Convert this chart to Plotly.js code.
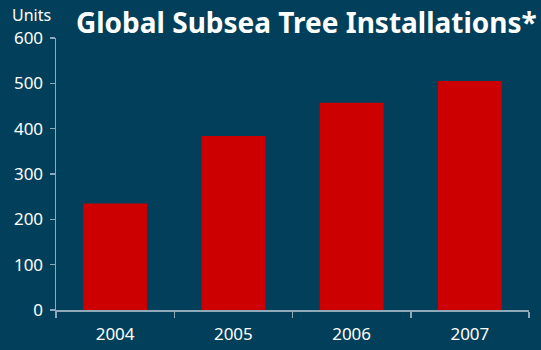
<!DOCTYPE html>
<html>
<head>
<meta charset="utf-8">
<script src="https://cdn.plot.ly/plotly-3.0.1.min.js"></script>
<style>html,body{margin:0;padding:0;background:#023f5a;}</style>
</head>
<body>
<div id="chart" style="width:541px;height:350px;"></div>
<script>
const years = ["2004", "2005", "2006", "2007"];
const installations = [235, 384, 457, 505];
const yTicks = [0, 100, 200, 300, 400, 500, 600];

const bg = "#023f5a";
const axisColor = "#8fa9b8";
const textColor = "#ffffff";
const fontFam = "Noto Sans, DejaVu Sans, sans-serif";

const data = [{
  type: "bar",
  x: years,
  y: installations,
  marker: {color: "#cc0000", line: {width: 0}},
  hoverinfo: "none"
}];

const layout = {
  width: 541, height: 350,
  paper_bgcolor: bg, plot_bgcolor: bg,
  margin: {l: 56, r: 12, t: 38, b: 40},
  bargap: 0.46,
  showlegend: false,
  font: {family: fontFam, color: textColor, size: 17},
  title: {
    text: "<b>Global Subsea Tree Installations*</b>",
    font: {family: fontFam, size: 28, color: textColor},
    xref: "container", yref: "container",
    x: 76/541, xanchor: "left",
    y: 1 - 23/350, yanchor: "middle"
  },
  xaxis: {
    type: "category",
    showline: true, linecolor: axisColor, linewidth: 1.5,
    ticks: "outside", tickson: "boundaries", ticklen: 6, tickcolor: axisColor, tickwidth: 1.5,
    ticklabelstandoff: 8,
    tickfont: {size: 17, color: textColor},
    showgrid: false, zeroline: false, fixedrange: true
  },
  yaxis: {
    range: [0, 600],
    tickvals: yTicks,
    showline: true, linecolor: axisColor, linewidth: 1.5,
    ticks: "outside", ticklen: 5, tickcolor: axisColor, tickwidth: 1.5,
    ticklabelstandoff: 3,
    tickfont: {size: 17, color: textColor},
    showgrid: false, zeroline: false, fixedrange: true
  },
  annotations: [{
    text: "Units",
    xref: "paper", yref: "paper",
    x: -0.006, y: 1.0, xanchor: "right", yanchor: "bottom",
    yshift: 10,
    showarrow: false,
    font: {size: 16, color: textColor}
  }]
};

Plotly.newPlot("chart", data, layout, {displayModeBar: false, staticPlot: true});
</script>
</body>
</html>
